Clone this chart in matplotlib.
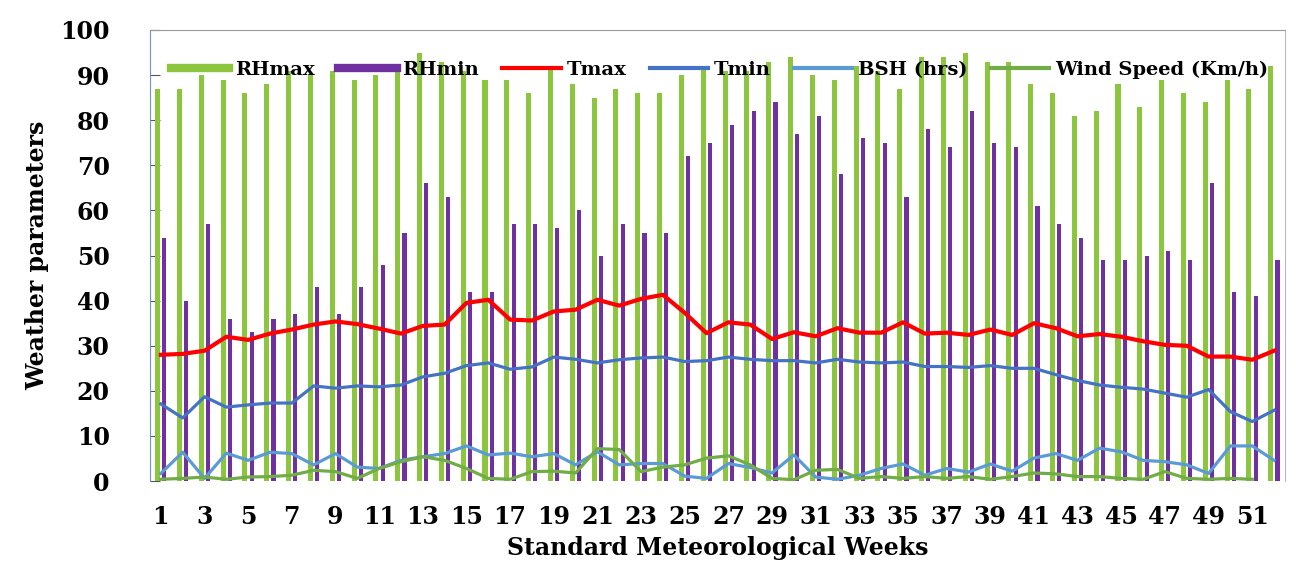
import matplotlib
matplotlib.use("Agg")
import matplotlib.pyplot as plt
from matplotlib.lines import Line2D
import numpy as np

weeks = np.arange(1, 53)

rh_max = [87, 87, 90, 89, 86, 88, 91, 90, 91, 89, 90, 91, 95,
          93, 91, 89, 89, 86, 92, 88, 85, 87, 86, 86, 90, 92,
          91, 91, 93, 94, 90, 89, 92, 91, 87, 94, 94, 95, 93,
          93, 88, 86, 81, 82, 88, 83, 89, 86, 84, 89, 87, 92]
rh_min = [54, 40, 57, 36, 33, 36, 37, 43, 37, 43, 48, 55, 66,
          63, 42, 42, 57, 57, 56, 60, 50, 57, 55, 55, 72, 75,
          79, 82, 84, 77, 81, 68, 76, 75, 63, 78, 74, 82, 75,
          74, 61, 57, 54, 49, 49, 50, 51, 49, 66, 42, 41, 49]
t_max = [28.0, 28.2, 28.9, 32.0, 31.3, 32.7, 33.6, 34.7, 35.4, 34.8, 33.8, 32.7, 34.4,
         34.7, 39.5, 40.2, 35.8, 35.6, 37.6, 38.0, 40.2, 38.9, 40.4, 41.3, 37.3, 32.8,
         35.2, 34.7, 31.5, 33.0, 32.1, 33.9, 32.9, 32.9, 35.2, 32.7, 32.9, 32.4, 33.6,
         32.4, 35.0, 33.9, 32.1, 32.6, 32.0, 31.0, 30.2, 30.0, 27.6, 27.6, 26.9, 28.9]
t_min = [17.1, 14.0, 18.7, 16.4, 16.9, 17.3, 17.3, 21.1, 20.6, 21.1, 20.9, 21.3, 23.1,
         23.9, 25.6, 26.2, 24.8, 25.3, 27.5, 27.0, 26.2, 26.9, 27.3, 27.5, 26.5, 26.7,
         27.5, 27.0, 26.7, 26.7, 26.2, 27.0, 26.4, 26.2, 26.4, 25.4, 25.4, 25.2, 25.6,
         25.0, 25.0, 23.6, 22.3, 21.3, 20.8, 20.4, 19.5, 18.6, 20.3, 15.4, 13.2, 15.7]
bsh = [1.7, 6.4, 0.6, 6.2, 4.6, 6.4, 6.1, 3.6, 6.1, 3.1, 2.8, 4.6, 5.4,
       6.1, 7.8, 5.8, 6.2, 5.4, 6.1, 3.6, 6.5, 3.6, 3.9, 3.9, 1.1, 0.6,
       3.9, 3.0, 1.8, 5.8, 0.9, 0.4, 1.3, 2.8, 3.8, 1.3, 2.8, 2.0, 3.8,
       2.2, 5.1, 6.1, 4.6, 7.3, 6.5, 4.6, 4.3, 3.6, 1.7, 7.8, 7.8, 4.6]
wind = [0.4, 0.6, 0.9, 0.4, 0.9, 1.0, 1.3, 2.4, 2.1, 0.6, 2.8, 4.3, 5.4,
        4.6, 2.8, 0.6, 0.4, 2.1, 2.2, 1.8, 7.2, 7.0, 2.1, 3.1, 3.6, 5.1,
        5.6, 3.6, 0.6, 0.3, 2.4, 2.6, 0.6, 1.0, 0.6, 1.0, 0.6, 1.0, 0.4,
        1.0, 1.8, 1.6, 1.0, 1.0, 0.6, 0.4, 2.1, 0.6, 0.4, 0.6, 0.4, np.nan]

c_rhmax = "#8CC63F"
c_rhmin = "#7030A0"
c_tmax = "#FF0000"
c_tmin = "#4472C4"
c_bsh = "#5B9BD5"
c_wind = "#70AD47"

plt.rcParams['font.family'] = 'DejaVu Serif'
plt.rcParams['font.weight'] = 'bold'

fig = plt.figure(figsize=(12.96, 5.66), dpi=100)
ax = fig.add_axes([0.1157, 0.150, 0.8758, 0.797])

# humidity bars side by side, temperature / sunshine / wind as lines
ax.bar(weeks - 0.15, rh_max, width=0.23, color=c_rhmax, zorder=2)
ax.bar(weeks + 0.16, rh_min, width=0.19, color=c_rhmin, zorder=2)
ax.plot(weeks, t_max, color=c_tmax, lw=3.0, zorder=3)
ax.plot(weeks, t_min, color=c_tmin, lw=2.3, zorder=3)
ax.plot(weeks, bsh, color=c_bsh, lw=2.3, zorder=3)
ax.plot(weeks, wind, color=c_wind, lw=2.3, zorder=3)

ax.set_xlim(0.5, 52.5)
ax.set_ylim(0, 100)
ax.set_yticks(np.arange(0, 101, 10))
ax.set_xticks(weeks[::2])
ax.tick_params(axis='y', direction='in', length=7, color='#555555', pad=29, labelsize=17)
ax.tick_params(axis='x', length=0, pad=17, labelsize=17)
for lab in ax.get_xticklabels() + ax.get_yticklabels():
    lab.set_fontweight('bold')

ax.spines['left'].set_color('#6f8fd8')
ax.spines['top'].set_color('#999999')
ax.spines['right'].set_color('#bbbbbb')
ax.spines['bottom'].set_visible(False)

ax.set_xlabel("Standard Meteorological Weeks", fontsize=17, fontweight='bold', labelpad=5)
ax.set_ylabel("Weather parameters", fontsize=17, fontweight='bold', labelpad=8)

handles = [Line2D([], [], color=c_rhmax, lw=6),
           Line2D([], [], color=c_rhmin, lw=6),
           Line2D([], [], color=c_tmax, lw=3),
           Line2D([], [], color=c_tmin, lw=3),
           Line2D([], [], color=c_bsh, lw=3),
           Line2D([], [], color=c_wind, lw=3)]
labels = ["RHmax", "RHmin", "Tmax", "Tmin", "BSH (hrs)", "Wind Speed (Km/h)"]
leg = ax.legend(handles, labels, loc='center', bbox_to_anchor=(0.502, 0.911), ncol=6,
                frameon=False, fontsize=14, handlelength=3, handletextpad=0.3,
                columnspacing=1.2, borderaxespad=0)
for t in leg.get_texts():
    t.set_fontweight('bold')

fig.savefig("out.png", dpi=100)
